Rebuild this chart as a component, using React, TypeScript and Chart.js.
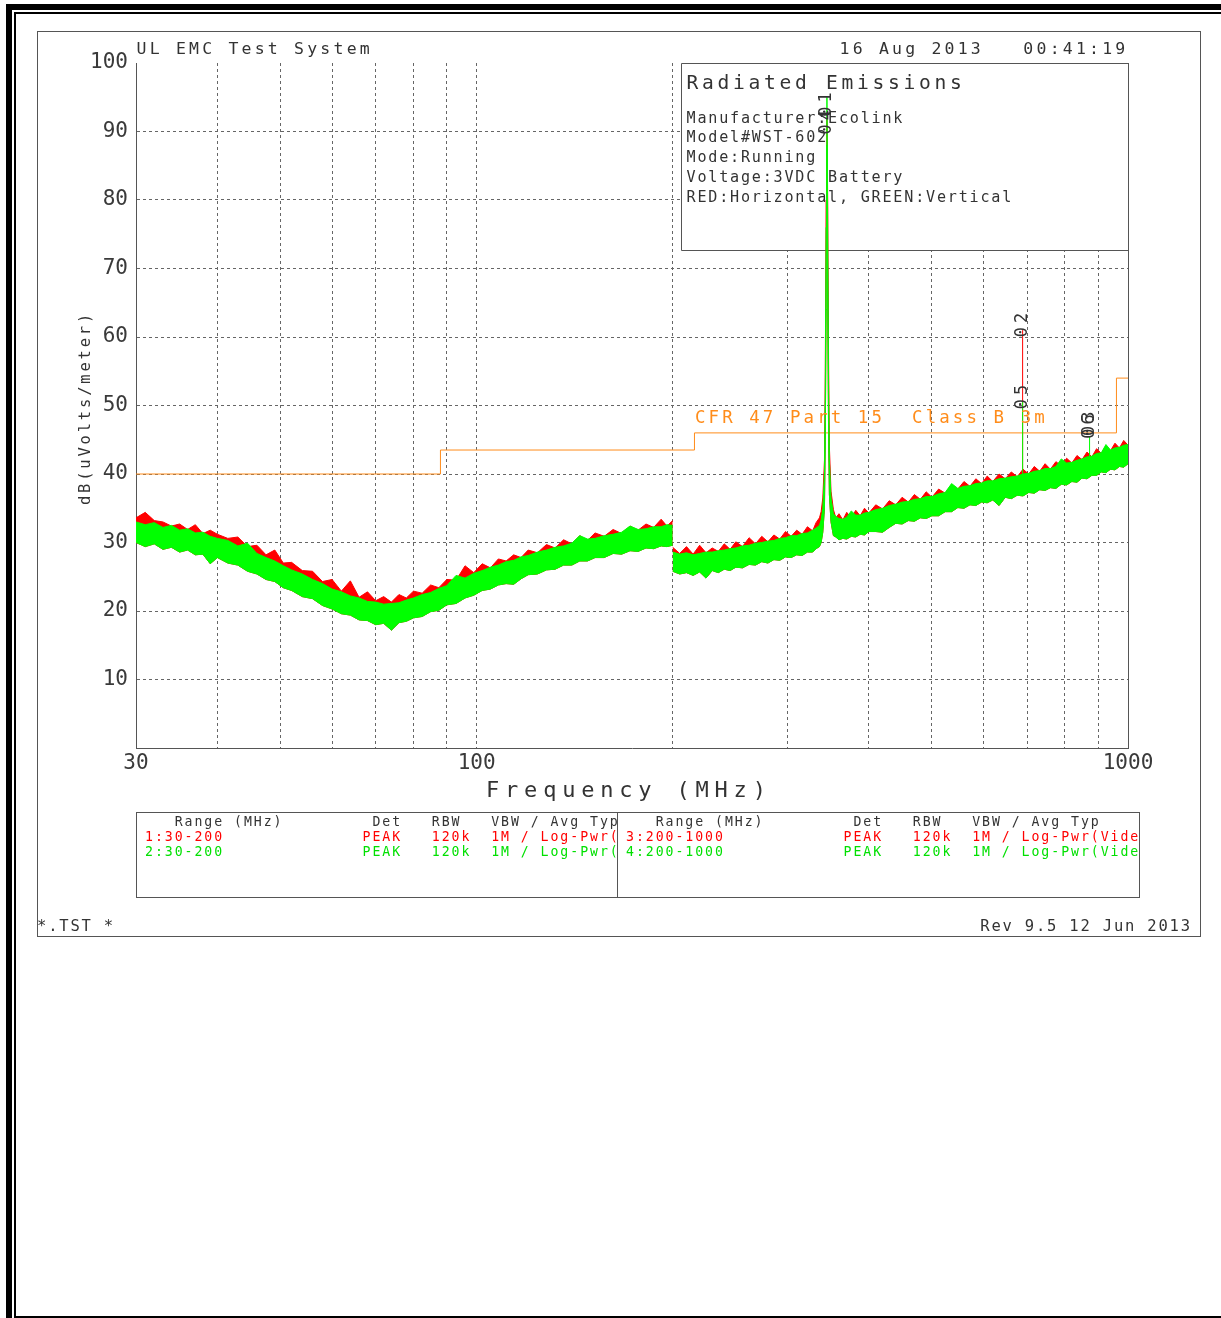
import React, { useEffect, useRef } from 'react';
import { Chart, registerables } from 'chart.js';

Chart.register(...registerables);

const W = 1221;
const H = 1318;
const FONT = '"DejaVu Sans Mono", "Liberation Mono", monospace';

// ---------- data: 30-200 MHz sweep ----------
const seg1Freq = [30, 31, 32, 33, 34, 35, 36, 37, 38, 39, 40, 41.5, 43, 44.5, 46, 47.5, 49, 50.5, 52, 54, 56, 58, 60, 62, 64, 66, 68, 70, 72, 74, 76, 78, 80, 82.5, 85, 87.5, 90, 93, 96, 99, 102, 105, 108, 111, 114, 117, 120, 124, 128, 132, 136, 140, 144, 148, 152, 157, 162, 167, 172, 177, 182, 187, 192, 196, 200];
const seg1GreenLo = [30.0, 29.4, 29.8, 29.0, 29.3, 28.6, 28.9, 28.2, 28.3, 26.9, 27.8, 27.0, 26.7, 25.8, 25.4, 24.6, 24.3, 23.4, 23.0, 22.1, 21.8, 20.8, 20.3, 19.6, 19.4, 18.7, 18.6, 18.0, 18.2, 17.2, 18.3, 18.5, 19.0, 19.2, 19.9, 20.1, 20.9, 21.1, 21.9, 22.3, 23.0, 23.2, 23.8, 24.0, 23.9, 24.7, 25.3, 25.4, 26.0, 26.1, 26.7, 26.7, 27.3, 27.3, 27.8, 27.8, 28.4, 28.3, 28.8, 28.7, 29.2, 29.1, 29.5, 29.4, 29.6];
const seg1GreenHi = [33.0, 32.6, 32.9, 32.2, 32.5, 31.8, 32.0, 31.4, 31.5, 30.9, 30.6, 30.3, 29.5, 29.9, 28.4, 27.8, 27.3, 26.6, 26.0, 25.4, 24.6, 24.0, 23.2, 22.8, 22.2, 21.9, 21.4, 21.3, 21.0, 21.1, 21.2, 21.6, 21.9, 22.4, 22.7, 23.3, 23.7, 25.2, 24.8, 25.5, 25.9, 26.4, 26.7, 27.2, 27.4, 27.9, 28.1, 28.6, 28.9, 29.3, 29.5, 29.9, 31.0, 30.5, 30.6, 31.0, 31.2, 31.5, 32.4, 31.9, 32.0, 32.3, 32.3, 32.6, 32.5];
const seg1RedHi = [33.6, 34.4, 33.2, 33.0, 32.4, 32.7, 31.9, 32.6, 31.3, 31.8, 31.2, 30.6, 30.8, 29.4, 29.6, 28.2, 28.9, 27.0, 27.1, 25.9, 25.8, 24.3, 24.6, 22.9, 24.4, 22.0, 22.8, 21.5, 22.1, 21.3, 22.4, 21.9, 22.9, 22.6, 23.8, 23.4, 24.6, 24.5, 26.6, 25.6, 26.9, 26.3, 27.6, 27.3, 28.2, 27.8, 28.9, 28.5, 29.7, 29.2, 30.4, 29.8, 31.0, 30.3, 31.4, 30.9, 31.9, 31.3, 32.4, 31.8, 32.7, 32.2, 33.4, 32.4, 33.2];

// ---------- data: 200-1000 MHz sweep ----------
const seg2Freq = [200, 205, 210, 215, 220, 225, 230, 235, 240, 245, 250, 256, 262, 268, 274, 280, 286, 292, 298, 304, 310, 316, 322, 328, 332, 336, 338, 340, 342, 343, 344, 345, 346, 347, 348, 350, 353, 356, 360, 365, 370, 376, 382, 388, 394, 400, 410, 420, 430, 440, 450, 460, 470, 480, 490, 500, 512, 524, 536, 548, 560, 572, 584, 596, 608, 620, 634, 648, 662, 676, 690, 704, 718, 732, 746, 760, 775, 790, 805, 820, 835, 850, 865, 880, 895, 910, 925, 940, 955, 970, 985, 1000];
const seg2GreenLo = [25.8, 25.4, 25.6, 25.2, 25.7, 24.8, 25.9, 25.6, 26.1, 25.9, 26.4, 26.3, 26.8, 26.7, 27.2, 27.0, 27.5, 27.4, 27.9, 27.8, 28.2, 28.1, 28.6, 28.6, 29.1, 29.4, 30.0, 31.5, 35, 45, 64, 88, 64, 46, 37, 33.0, 31.0, 30.8, 30.4, 30.6, 30.5, 30.9, 30.8, 31.2, 31.1, 31.6, 31.6, 31.5, 32.2, 32.8, 32.7, 33.2, 33.1, 33.6, 33.5, 33.9, 33.9, 34.5, 34.5, 35.1, 35.0, 35.5, 35.4, 35.9, 35.8, 36.2, 35.4, 36.6, 36.4, 36.9, 36.8, 37.3, 37.2, 37.7, 37.6, 38.0, 37.9, 38.5, 38.4, 38.9, 38.8, 39.4, 39.3, 39.8, 39.8, 40.3, 40.2, 40.7, 40.6, 41.1, 41.0, 41.5];
const seg2GreenHi = [28.6, 28.3, 28.5, 28.2, 28.4, 28.6, 28.6, 28.8, 28.9, 29.1, 29.2, 29.5, 29.6, 29.9, 30.0, 30.2, 30.3, 30.6, 30.7, 31.0, 31.0, 31.3, 31.4, 31.8, 32.1, 32.5, 33.3, 35.0, 40, 52, 76, 95, 74, 53, 42, 36.5, 34.2, 33.8, 33.5, 33.4, 33.7, 34.6, 34.0, 34.0, 34.3, 34.4, 34.8, 35.0, 35.4, 35.6, 35.9, 36.0, 36.3, 36.4, 36.7, 36.7, 37.1, 37.3, 38.6, 37.9, 38.2, 38.3, 38.6, 38.7, 39.0, 39.0, 39.3, 39.4, 39.6, 39.7, 40.0, 40.1, 40.4, 40.5, 40.8, 40.8, 41.1, 42.2, 41.6, 41.7, 42.0, 42.2, 42.5, 42.6, 43.0, 43.1, 44.3, 43.5, 43.8, 43.9, 44.2, 44.3];
const seg2RedHi = [29.3, 28.4, 29.4, 28.3, 29.6, 28.5, 29.2, 28.7, 29.8, 29.0, 30.1, 29.4, 30.7, 29.8, 30.9, 30.1, 31.1, 30.5, 31.6, 30.9, 31.8, 31.2, 32.3, 31.7, 32.9, 33.6, 34.5, 36.5, 42, 55, 80, 92, 79, 57, 44, 37.5, 34.8, 33.6, 34.2, 33.3, 34.4, 33.6, 34.7, 33.9, 35.0, 34.3, 35.5, 34.9, 36.1, 35.5, 36.6, 35.9, 37.0, 36.3, 37.4, 36.6, 37.8, 37.2, 38.4, 37.8, 38.9, 38.2, 39.3, 38.6, 39.7, 38.9, 40.0, 39.3, 40.3, 39.6, 40.7, 40.0, 41.1, 40.4, 41.5, 40.7, 41.8, 41.2, 42.3, 41.6, 42.7, 42.1, 43.2, 42.5, 43.7, 43.0, 44.1, 43.4, 44.5, 43.8, 44.9, 44.2];

// ---------- narrow emissions ----------
const spikeFreq = [689, 873];
const spikeBase = [38.6, 41.2];
const redSpikeTop = [61, 43];
const greenSpikeTop = [50.5, 45.5];

// ---------- limit: CFR 47 Part 15 Class B 3m ----------
const limitFreq = [30, 88, 216, 960, 1000];
const limitLevel = [40, 43.5, 46, 54, 54];

// ---------- markers ----------
const markerLabel = ['01', '04', '02', '05', '03', '06'];
const markerFreq = [345, 345, 689, 689, 873, 873];
const markerLevel = [93.2, 90.6, 61, 50.5, 46.6, 46.2];

// ---------- axes ----------
const yTicks = [0, 10, 20, 30, 40, 50, 60, 70, 80, 90, 100];
const xGridValues = [30, 40, 50, 60, 70, 80, 90, 100, 200, 300, 400, 500, 600, 700, 800, 900, 1000];
const xLabelValues = [30, 100, 1000];

const RED = '#ff0000';
const GREEN = '#00ff00';
const ORANGE = '#ff8c1a';
const GRID = '#666666';
const FRAME = '#555555';
const INK = '#333333';

const BOX_LEFT = 681;
const BOX_BOTTOM = 250;

const pts = (f: number[], v: (number | null)[]) => f.map((x, i) => ({ x, y: v[i] }));
const spikePts = (tops: number[]) =>
  spikeFreq.flatMap((f, i) => [
    { x: f, y: spikeBase[i] },
    { x: f, y: tops[i] },
    { x: f, y: null },
  ]);

const lineBase = { borderWidth: 1, pointRadius: 0, tension: 0 };

const overlayPlugin = {
  id: 'overlay',
  beforeDatasetsDraw(chart: any) {
    const { ctx, chartArea } = chart;
    ctx.save();
    ctx.fillStyle = '#ffffff';
    ctx.fillRect(BOX_LEFT, chartArea.top, chartArea.right - BOX_LEFT, BOX_BOTTOM - chartArea.top);
    ctx.strokeStyle = FRAME;
    ctx.lineWidth = 1;
    ctx.beginPath();
    ctx.moveTo(BOX_LEFT + 0.5, Math.round(chartArea.top) + 0.5);
    ctx.lineTo(BOX_LEFT + 0.5, BOX_BOTTOM + 0.5);
    ctx.lineTo(Math.round(chartArea.right) + 0.5, BOX_BOTTOM + 0.5);
    ctx.moveTo(BOX_LEFT + 0.5, Math.round(chartArea.top) + 0.5);
    ctx.lineTo(Math.round(chartArea.right) + 0.5, Math.round(chartArea.top) + 0.5);
    ctx.moveTo(Math.round(chartArea.right) + 0.5, Math.round(chartArea.top));
    ctx.lineTo(Math.round(chartArea.right) + 0.5, Math.round(chartArea.bottom));
    ctx.stroke();
    ctx.restore();
  },
  afterDatasetsDraw(chart: any) {
    const { ctx } = chart;
    const xs = chart.scales.x;
    const ys = chart.scales.y;
    ctx.save();
    ctx.font = `17px ${FONT}`;
    (ctx as any).letterSpacing = '4px';
    ctx.fillStyle = INK;
    ctx.textBaseline = 'middle';
    ctx.textAlign = 'left';
    markerLabel.forEach((lab, i) => {
      const px = xs.getPixelForValue(markerFreq[i]);
      const py = ys.getPixelForValue(markerLevel[i]);
      ctx.save();
      ctx.translate(px, py);
      ctx.rotate(-Math.PI / 2);
      const w0 = ctx.measureText(lab[0]).width;
      ctx.fillText(lab, -w0 / 2, 0);
      ctx.restore();
    });
    ctx.restore();
  },
};

type TP = {
  x: number;
  capTop: number;
  size: number;
  sp: number;
  text: string;
  color?: string;
  align?: 'left' | 'right';
};

function Txt({ x, capTop, size, sp, text, color = INK, align = 'left' }: TP) {
  const style: React.CSSProperties = {
    position: 'absolute',
    top: capTop - 0.117 * size,
    fontFamily: FONT,
    fontSize: size,
    lineHeight: `${size}px`,
    letterSpacing: sp,
    color,
    whiteSpace: 'pre',
  };
  if (align === 'left') style.left = x;
  else style.right = W - x - sp;
  return <div style={style}>{text}</div>;
}

function Rect({ l, t, w, h, bg }: { l: number; t: number; w: number; h: number; bg: string }) {
  return <div style={{ position: 'absolute', left: l, top: t, width: w, height: h, background: bg }} />;
}

const tableHeader = '   Range (MHz)'.padEnd(23) + 'Det'.padEnd(6) + 'RBW'.padEnd(6) + 'VBW / Avg Typ';
const tableRow = (label: string) => label.padEnd(22) + 'PEAK'.padEnd(7) + '120k'.padEnd(6) + '1M / Log-Pwr(Video)';
const leftRanges = ['1:30-200', '2:30-200'];
const rightRanges = ['3:200-1000', '4:200-1000'];

const legendLines = [
  'Manufacturer:Ecolink',
  'Model#WST-602',
  'Mode:Running',
  'Voltage:3VDC Battery',
  'RED:Horizontal, GREEN:Vertical',
];

function TableHalf({ left, width, ranges }: { left: number; width: number; ranges: string[] }) {
  const S = 13.2;
  const SP = 1.95;
  return (
    <div style={{ position: 'absolute', left, top: 813, width, height: 84, overflow: 'hidden' }}>
      <Txt x={8} capTop={3.7} size={S} sp={SP} text={tableHeader} />
      <Txt x={8} capTop={18.7} size={S} sp={SP} text={tableRow(ranges[0])} color={RED} />
      <Txt x={8} capTop={33.7} size={S} sp={SP} text={tableRow(ranges[1])} color="#00e000" />
    </div>
  );
}

export default function App() {
  const ref = useRef<HTMLCanvasElement>(null);

  useEffect(() => {
    const canvas = ref.current;
    if (!canvas) return;
    const chart = new Chart(canvas, {
      type: 'line',
      data: {
        datasets: [
          { ...lineBase, data: pts(seg1Freq, seg1GreenLo), borderColor: RED, fill: false, order: 2 },
          { ...lineBase, data: pts(seg1Freq, seg1RedHi), borderColor: RED, backgroundColor: RED, fill: '-1', order: 2 },
          { ...lineBase, data: pts(seg2Freq, seg2GreenLo), borderColor: RED, fill: false, order: 2 },
          { ...lineBase, data: pts(seg2Freq, seg2RedHi), borderColor: RED, backgroundColor: RED, fill: '-1', order: 2 },
          { ...lineBase, data: pts(seg1Freq, seg1GreenLo), borderColor: GREEN, fill: false, order: 1 },
          { ...lineBase, data: pts(seg1Freq, seg1GreenHi), borderColor: GREEN, backgroundColor: GREEN, fill: '-1', order: 1 },
          { ...lineBase, data: pts(seg2Freq, seg2GreenLo), borderColor: GREEN, fill: false, order: 1 },
          { ...lineBase, data: pts(seg2Freq, seg2GreenHi), borderColor: GREEN, backgroundColor: GREEN, fill: '-1', order: 1 },
          { ...lineBase, data: spikePts(redSpikeTop), borderColor: RED, fill: false, spanGaps: false, order: 2 },
          { ...lineBase, data: spikePts(greenSpikeTop), borderColor: GREEN, fill: false, spanGaps: false, order: 1 },
          { ...lineBase, data: pts(limitFreq, limitLevel), borderColor: ORANGE, fill: false, stepped: 'before', order: 3 },
        ] as any,
      },
      options: {
        responsive: false,
        animation: false,
        devicePixelRatio: 1,
        events: [],
        layout: { padding: { left: 86, top: 63, right: 93, bottom: 530 } },
        plugins: { legend: { display: false }, tooltip: { enabled: false } },
        scales: {
          x: {
            type: 'logarithmic',
            min: 30,
            max: 1000,
            afterBuildTicks: (s: any) => {
              s.ticks = xGridValues.map((v) => ({ value: v }));
            },
            afterFit: (s: any) => {
              s.height = 40;
            },
            ticks: {
              autoSkip: false,
              maxRotation: 0,
              minRotation: 0,
              padding: 3,
              color: '#3a3a3a',
              font: { family: FONT, size: 21 },
              callback: (v: any) => (xLabelValues.includes(Number(v)) ? String(v) : ''),
            },
            grid: {
              color: (c: any) => (c.tick && (c.tick.value === 30 || c.tick.value === 1000) ? 'rgba(0,0,0,0)' : GRID),
              lineWidth: 1,
              drawTicks: false,
              tickLength: 0,
            },
            border: { display: true, color: FRAME, width: 1, dash: [3, 3] },
          },
          y: {
            type: 'linear',
            min: 0,
            max: 100,
            afterBuildTicks: (s: any) => {
              s.ticks = yTicks.map((v) => ({ value: v }));
            },
            afterFit: (s: any) => {
              s.width = 50;
            },
            ticks: {
              padding: 8,
              color: '#3a3a3a',
              font: { family: FONT, size: 21 },
              callback: (v: any) => (Number(v) === 0 ? '' : String(v)),
            },
            grid: {
              color: (c: any) => (c.tick && (c.tick.value === 0 || c.tick.value === 100) ? 'rgba(0,0,0,0)' : GRID),
              lineWidth: 1,
              drawTicks: false,
              tickLength: 0,
            },
            border: { display: true, color: FRAME, width: 1, dash: [3, 3] },
          },
        },
      } as any,
      plugins: [overlayPlugin],
    });
    return () => chart.destroy();
  }, []);

  return (
    <div style={{ position: 'absolute', left: 0, top: 0, width: W, height: H, background: '#ffffff', overflow: 'hidden' }}>
      <canvas ref={ref} width={W} height={H} style={{ position: 'absolute', left: 0, top: 0, width: W, height: H }} />
      <div style={{ position: 'absolute', left: 0, top: 0, width: W, height: H, pointerEvents: 'none' }}>
        {/* page frame */}
        <Rect l={6} t={4} w={W - 6} h={6} bg="#000" />
        <Rect l={6} t={4} w={6} h={H - 4} bg="#000" />
        <Rect l={14} t={12} w={W - 14} h={2} bg="#000" />
        <Rect l={14} t={12} w={2} h={H - 12} bg="#000" />
        <Rect l={14} t={1316} w={W - 14} h={2} bg="#000" />
        {/* inner frame */}
        <div style={{ position: 'absolute', left: 37, top: 31, width: 1162, height: 904, border: `1px solid ${FRAME}` }} />

        <Txt x={136.5} capTop={43.3} size={16.5} sp={3.2} text="UL EMC Test System" />
        <Txt x={839.5} capTop={43.3} size={16.5} sp={3.2} text="16 Aug 2013   00:41:19" />

        <Txt x={686.5} capTop={75} size={19.6} sp={3.7} text="Radiated Emissions" />
        {legendLines.map((t, i) => (
          <Txt key={t} x={686.5} capTop={112.5 + i * 19.7} size={15.1} sp={1.8} text={t} />
        ))}

        <Txt x={695} capTop={410.7} size={17.4} sp={3.1} color={ORANGE} text="CFR 47 Part 15  Class B 3m" />

        <Txt x={486} capTop={782} size={22} sp={5.8} text="Frequency (MHz)" />
        <div
          style={{
            position: 'absolute',
            left: 86.3,
            top: 408,
            transform: 'translate(-50%, -50%) rotate(-90deg)',
            fontFamily: FONT,
            fontSize: 15.5,
            lineHeight: '15.5px',
            letterSpacing: 2.8,
            color: INK,
            whiteSpace: 'pre',
          }}
        >
          dB(uVolts/meter)
        </div>

        {/* settings table */}
        <div style={{ position: 'absolute', left: 136, top: 812, width: 1002, height: 84, border: `1px solid ${FRAME}` }} />
        <div style={{ position: 'absolute', left: 617, top: 812, width: 1, height: 86, background: FRAME }} />
        <TableHalf left={137} width={480} ranges={leftRanges} />
        <TableHalf left={618} width={520} ranges={rightRanges} />

        <Txt x={37} capTop={921} size={15.5} sp={1.8} text="*.TST *" />
        <Txt x={1190} capTop={921} size={15.5} sp={1.8} align="right" text="Rev 9.5 12 Jun 2013" />
      </div>
    </div>
  );
}
